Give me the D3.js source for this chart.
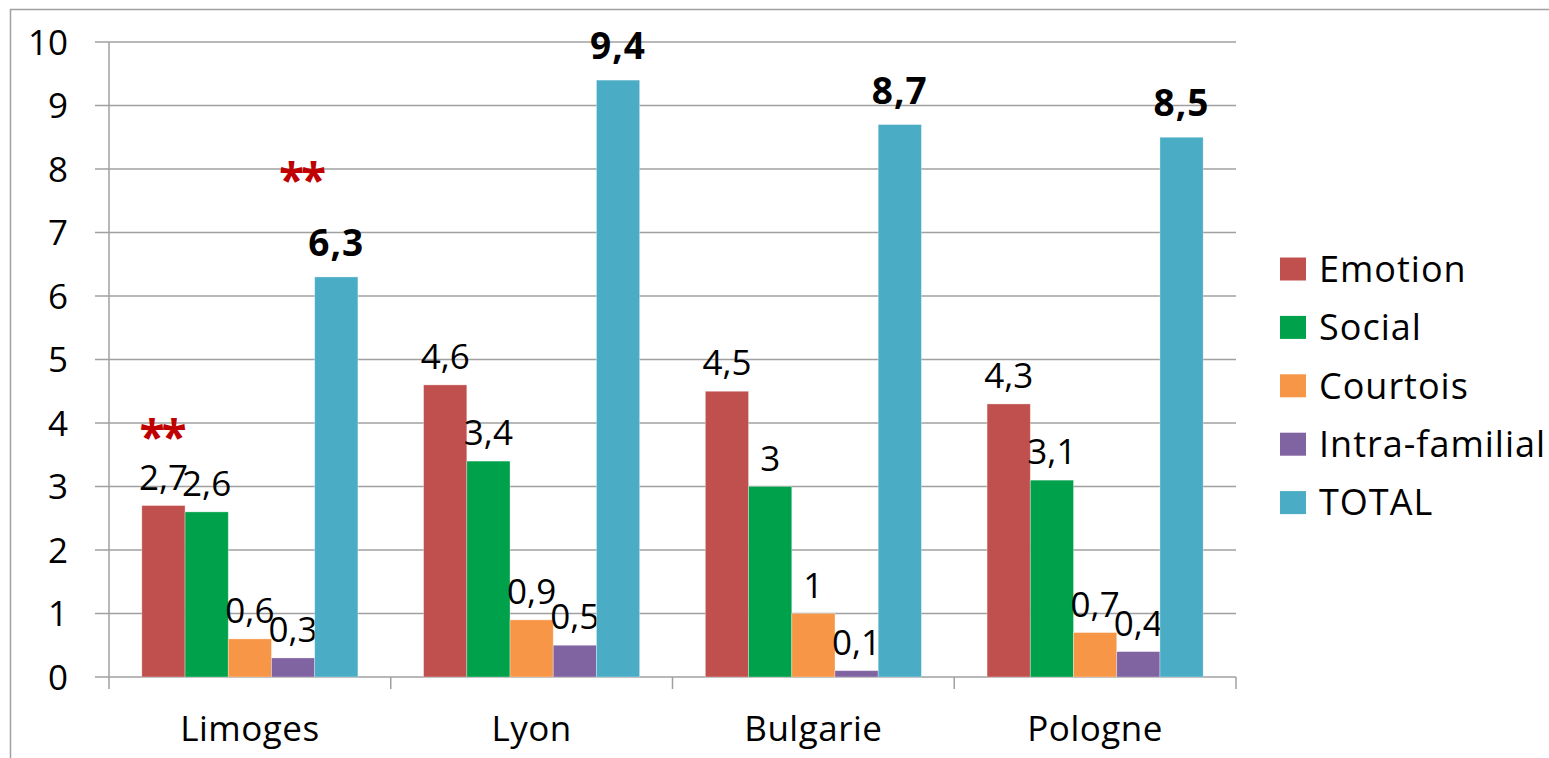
<!DOCTYPE html>
<html>
<head>
<meta charset="utf-8">
<script src="https://cdn.jsdelivr.net/npm/d3@7"></script>
<style>
  body { margin: 0; background: #fff; }
  svg text { font-family: "Open Sans", sans-serif; fill: #000; }
</style>
</head>
<body>
<div id="chart"></div>
<script>
// data
var categories = ["Limoges", "Lyon", "Bulgarie", "Pologne"];
var series = ["Emotion", "Social", "Courtois", "Intra-familial", "TOTAL"];
var emotion = [2.7, 4.6, 4.5, 4.3];
var social = [2.6, 3.4, 3.0, 3.1];
var courtois = [0.6, 0.9, 1.0, 0.7];
var intraFamilial = [0.3, 0.5, 0.1, 0.4];
var total = [6.3, 9.4, 8.7, 8.5];
var yTicks = [0, 1, 2, 3, 4, 5, 6, 7, 8, 9, 10];
// significance marks (category, series, value level)
var stars = [
  { cat: "Limoges", serie: "Emotion", level: 3.95 },
  { cat: "Limoges", serie: "Intra-familial", level: 8.0 }
];

var values = [emotion, social, courtois, intraFamilial, total];
var colors = ["#C0504D", "#00A14B", "#F79646", "#8064A2", "#4BACC6"];

var width = 1549, height = 758;
var svg = d3.select("#chart").append("svg")
  .attr("width", width)
  .attr("height", height);

// outer chart frame
svg.append("rect")
  .attr("x", 10.5).attr("y", 9.5)
  .attr("width", width + 20).attr("height", height + 20)
  .attr("fill", "none")
  .attr("stroke", "#a0a0a0")
  .attr("stroke-width", 1.5);

var x0 = d3.scaleBand().domain(categories).range([109, 1236]).padding(0);
var x1 = d3.scaleBand().domain(series).range([0, x0.bandwidth()]).paddingInner(0).paddingOuter(0.76);
var y = d3.scaleLinear().domain([0, 10]).range([677, 42]);

// gridlines
svg.append("g").selectAll("line")
  .data(yTicks)
  .enter().append("line")
  .attr("x1", 95).attr("x2", 1236)
  .attr("y1", function (d) { return y(d); })
  .attr("y2", function (d) { return y(d); })
  .attr("stroke", "#a0a0a0")
  .attr("stroke-width", 1.5);

// y axis line
svg.append("line")
  .attr("x1", 109).attr("x2", 109)
  .attr("y1", y(10)).attr("y2", y(0))
  .attr("stroke", "#a0a0a0").attr("stroke-width", 1.5);

// y tick labels
svg.append("g").selectAll("text")
  .data(yTicks)
  .enter().append("text")
  .attr("x", 68)
  .attr("y", function (d) { return y(d) + 12.5; })
  .attr("text-anchor", "end")
  .attr("font-size", "35px")
  .text(function (d) { return d; });

// category ticks
svg.append("g").selectAll("line")
  .data(categories.concat(["end"]))
  .enter().append("line")
  .attr("x1", function (d, i) { return i < categories.length ? x0(d) : x0.range()[1]; })
  .attr("x2", function (d, i) { return i < categories.length ? x0(d) : x0.range()[1]; })
  .attr("y1", y(0)).attr("y2", y(0) + 12)
  .attr("stroke", "#a0a0a0").attr("stroke-width", 1.5);

// category labels
svg.append("g").selectAll("text")
  .data(categories)
  .enter().append("text")
  .attr("x", function (d) { return x0(d) + x0.bandwidth() / 2; })
  .attr("y", 741)
  .attr("text-anchor", "middle")
  .attr("font-size", "35px")
  .attr("letter-spacing", "0.5px")
  .text(function (d) { return d; });

function fmt(v) { return String(v).replace(".", ","); }

// bars
series.forEach(function (s, si) {
  var g = svg.append("g");
  g.selectAll("rect")
    .data(values[si])
    .enter().append("rect")
    .attr("x", function (d, i) { return x0(categories[i]) + x1(s); })
    .attr("y", function (d) { return y(d); })
    .attr("width", x1.bandwidth())
    .attr("height", function (d) { return y(0) - y(d); })
    .attr("fill", colors[si])
    .attr("stroke", "#fff")
    .attr("stroke-opacity", 0.4)
    .attr("stroke-width", 0.8);

  var isTotal = s === "TOTAL";
  g.selectAll("text")
    .data(values[si])
    .enter().append("text")
    .attr("x", function (d, i) { return x0(categories[i]) + x1(s) + x1.bandwidth() / 2; })
    .attr("y", function (d) { return y(d) - (isTotal ? 21 : 16); })
    .attr("text-anchor", "middle")
    .attr("font-size", isTotal ? "37px" : "35px")
    .attr("font-weight", isTotal ? "bold" : "normal")
    .attr("letter-spacing", isTotal ? "1px" : "0px")
    .text(function (d) { return fmt(d); });
});

// significance stars
svg.append("g").selectAll("text")
  .data(stars)
  .enter().append("text")
  .attr("x", function (d) { return x0(d.cat) + x1(d.serie) + x1.bandwidth() / 2 + (d.serie === "Emotion" ? -2 : 8); })
  .attr("y", function (d) { return y(d.level) + 28; })
  .attr("text-anchor", "middle")
  .attr("font-size", "46px")
  .attr("font-weight", "bold")
  .attr("letter-spacing", "-3px")
  .style("fill", "#C00000")
  .text("**");

// legend
var legend = svg.append("g").attr("transform", "translate(1280,269)");
series.forEach(function (s, i) {
  legend.append("rect")
    .attr("x", 0).attr("y", i * 58.4 - 11.5)
    .attr("width", 26).attr("height", 23)
    .attr("fill", colors[i]);
  legend.append("text")
    .attr("x", 39).attr("y", i * 58.4 + 12.7)
    .attr("font-size", "36px")
    .attr("letter-spacing", "1px")
    .text(s);
});
</script>
</body>
</html>
